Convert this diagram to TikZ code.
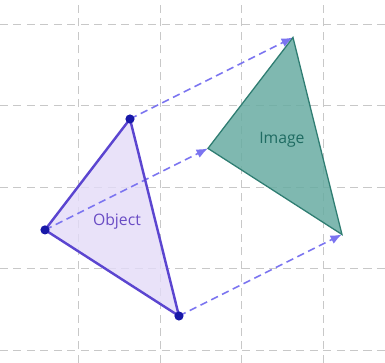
\documentclass[tikz,border=0pt]{standalone}
\usepackage{fontspec}
\setsansfont{Open Sans}
\usepackage{tikz}
\usetikzlibrary{arrows.meta}

\definecolor{gridgray}{HTML}{C8C8C8}
\definecolor{objline}{HTML}{5B45D0}
\definecolor{objfill}{HTML}{E3DBF8}
\definecolor{objtext}{HTML}{6A4CC4}
\definecolor{imgline}{HTML}{2F7D72}
\definecolor{imgfill}{HTML}{68ACA2}
\definecolor{imgtext}{HTML}{1F6B62}
\definecolor{movearrow}{HTML}{7B74F0}
\definecolor{vertexdot}{HTML}{1818A8}

\begin{document}
\begin{tikzpicture}[>={Latex[length=4pt,width=3.2pt]},
    gridline/.style={gridgray, line width=0.35pt, dash pattern=on 2.8pt off 1.9pt},
    movevec/.style={->, movearrow, line width=0.55pt, dash pattern=on 2.6pt off 1.6pt},
    label/.style={font=\sffamily\fontsize{5.5}{6.5}\selectfont}]
    \useasboundingbox (-0.969, -1.153) rectangle (3.755, 3.30);

    % Grid
    \foreach \x in {0,...,3}
        \draw[gridline] (\x, -1.153) -- (\x, 3.30);
    \foreach \y in {-1,...,3}
        \draw[gridline] (-0.969, \y) -- (3.755, \y);

    % Object vertices
    \coordinate (A) at (0.626, 1.840);
    \coordinate (B) at (-0.417, 0.479);
    \coordinate (C) at (1.227, -0.577);

    % Image vertices, moved by (2, 1)
    \coordinate (A1) at (2.626, 2.840);
    \coordinate (B1) at (1.583, 1.479);
    \coordinate (C1) at (3.227, 0.423);

    % Object
    \fill[objfill, fill opacity=0.8] (A) -- (B) -- (C) -- cycle;

    % Translation arrows
    \draw[movevec] (A) -- (A1);
    \draw[movevec] (B) -- (B1);
    \draw[movevec] (C) -- (C1);

    \draw[objline, line width=0.85pt, line join=round] (A) -- (B) -- (C) -- cycle;
    \node[label, text=objtext] (objlabel) at (0.466, 0.589) {Object};

    % Image
    \filldraw[fill=imgfill, fill opacity=0.85, draw=imgline, line width=0.45pt] (A1) -- (B1) -- (C1) -- cycle;
    \node[label, text=imgtext] (imglabel) at (2.49, 1.58) {Image};

    % Vertex dots
    \foreach \p in {A, B, C}
        \fill[vertexdot] (\p) circle (1.6pt);
\end{tikzpicture}
\end{document}
